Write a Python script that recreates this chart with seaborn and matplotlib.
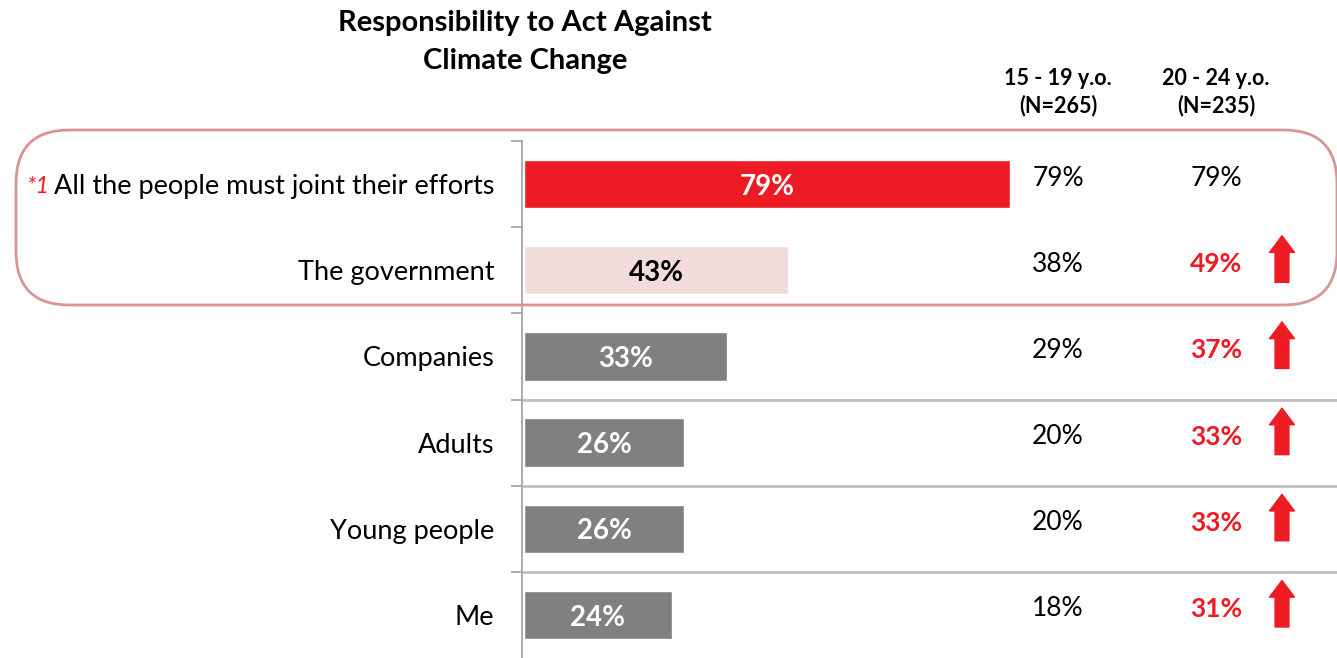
import matplotlib
matplotlib.use("Agg")
import matplotlib.pyplot as plt
from matplotlib.patches import FancyBboxPatch
import matplotlib.transforms as mtransforms
import seaborn as sns

# Survey answers: who is responsible to act against climate change
categories = ["All the people must joint their efforts", "The government",
              "Companies", "Adults", "Young people", "Me"]
total = [79, 43, 33, 26, 26, 24]
age_15_19 = [79, 38, 29, 20, 20, 18]
age_20_24 = [79, 49, 37, 33, 33, 31]
significant_up = [False, True, True, True, True, True]
col_headers = ["15 - 19 y.o.\n(N=265)", "20 - 24 y.o.\n(N=235)"]
title = "Responsibility to Act Against\nClimate Change"

RED = "#ED1C24"
PINK = "#F2DCDB"
GREY = "#808080"
bar_colors = [RED, PINK, GREY, GREY, GREY, GREY]
label_colors = ["white", "black", "white", "white", "white", "white"]

sns.set_theme(style="white")
plt.rcParams["font.family"] = ["Lato", "DejaVu Sans"]
plt.rcParams["text.color"] = "black"

W, H = 1337, 658
fig = plt.figure(figsize=(W / 100, H / 100), dpi=100)
ax_left, ax_top = 522, 141
ax = fig.add_axes([ax_left / W, 0, 1 - ax_left / W, (H - ax_top) / H])

sns.barplot(x=total, y=categories, hue=categories, palette=bar_colors,
            legend=False, orient="h", width=0.56, ax=ax, saturation=1)

# x scale: zero just right of the spine
px_per_unit = 6.15
x0 = -2 / px_per_unit
ax.set_xlim(x0, x0 + (W - ax_left) / px_per_unit)
ax.set_ylim(len(categories) - 0.5, -0.5)
ax.set_xlabel("")
ax.set_ylabel("")
ax.set_xticks([])

# Left spine only, with ticks at category boundaries
for s in ["top", "right", "bottom"]:
    ax.spines[s].set_visible(False)
ax.spines["left"].set_color("#A6A6A6")
ax.spines["left"].set_linewidth(1.3)
ax.set_yticks([i - 0.5 for i in range(len(categories))], minor=True)
ax.tick_params(axis="y", which="minor", length=8, width=1.3, color="#A6A6A6", left=True)
ax.tick_params(axis="y", which="major", length=0, pad=20, labelsize=19.5, labelcolor="black")

# Value labels inside bars
for i, (v, c) in enumerate(zip(total, label_colors)):
    ax.text(v / 2, i + 0.03, f"{v}%", ha="center", va="center",
            fontsize=20, fontweight="bold", color=c)

# Separators between the lower rows
for b in [2.5, 3.5, 4.5]:
    ax.axhline(b, xmin=0, xmax=1, color="#BFBFBF", lw=2, zorder=0)

# Age-group columns
col1_x = (1058 - ax_left) / (W - ax_left)
col2_x = (1216 - ax_left) / (W - ax_left)
arrow_x = (1282 - ax_left) / (W - ax_left)
blend = mtransforms.blended_transform_factory(ax.transAxes, ax.transData)
for i in range(len(categories)):
    ax.text(col1_x, i - 0.07, f"{age_15_19[i]}%", transform=blend,
            ha="center", va="center", fontsize=19, color="black")
    up = significant_up[i]
    ax.text(col2_x, i - 0.07, f"{age_20_24[i]}%", transform=blend,
            ha="center", va="center", fontsize=19,
            color=RED if up else "black", fontweight="bold" if up else "normal")
    if up:
        ax.annotate("", xy=(arrow_x, i - 0.40), xytext=(arrow_x, i + 0.14),
                    xycoords=blend, textcoords=blend,
                    arrowprops=dict(arrowstyle="simple,head_length=0.6,head_width=0.9,tail_width=0.5",
                                    color=RED, mutation_scale=20, shrinkA=0, shrinkB=0))

for hx, htxt in zip([1058, 1216], col_headers):
    fig.text(hx / W, 1 - 92 / H, htxt, ha="center", va="center",
             fontsize=15.5, fontweight="bold", linespacing=1.35)

fig.text(525 / W, 1 - 42 / H, title, ha="center", va="center",
         fontsize=21, fontweight="bold", linespacing=1.55)

# Rounded highlight around the first two rows
box = FancyBboxPatch((16 / W, 1 - 305 / H), (1337 - 16) / W, (305 - 130) / H,
                     boxstyle="round,pad=0,rounding_size=0.04",
                     transform=fig.transFigure, fill=False,
                     edgecolor="#D99594", lw=2, mutation_aspect=W / H)
fig.patches.append(box)

# Footnote marker before the first label
fig.canvas.draw()
renderer = fig.canvas.get_renderer()
first = ax.get_yticklabels()[0]
bb = first.get_window_extent(renderer)
fig.text((bb.x0 - 5) / W, (bb.y0 + bb.y1) / 2 / H, "*1", ha="right", va="center",
         fontsize=17, color=RED, style="italic")

fig.savefig("out.png", dpi=100)
